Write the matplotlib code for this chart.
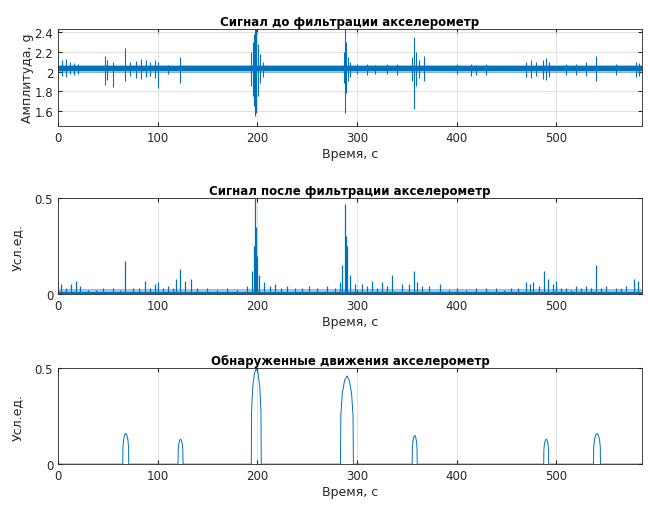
import matplotlib.pyplot as plt
import numpy as np

# time span of the record, s
t_end = 586

# raw accelerometer: noise band and bursts (time, upper, lower)
raw_band = [2.008, 2.052]
raw_band_wide = [1.99, 2.07]
raw_t = [4, 8, 12, 16, 20, 47, 49, 55, 67, 72, 78, 83, 88, 92, 97, 100, 110, 122,
         194, 196, 197, 198, 199, 201, 203, 206, 287, 288, 289, 291, 293, 300, 310,
         318, 330, 340, 355, 357, 359, 362, 367, 400, 415, 420, 430, 470, 475, 480,
         487, 490, 493, 510, 520, 530, 540, 560, 580, 583]
raw_hi = [2.12, 2.13, 2.10, 2.09, 2.08, 2.16, 2.12, 2.10, 2.24, 2.10, 2.11, 2.13, 2.12,
          2.10, 2.12, 2.10, 2.07, 2.15,
          2.20, 2.30, 2.38, 2.45, 2.45, 2.28, 2.18, 2.10, 2.20, 2.45, 2.30, 2.15, 2.10,
          2.08, 2.08, 2.07, 2.08, 2.08, 2.15, 2.35, 2.20, 2.12, 2.16, 2.08, 2.08, 2.07,
          2.08, 2.10, 2.12, 2.10, 2.12, 2.14, 2.10, 2.08, 2.08, 2.10, 2.16, 2.08, 2.10, 2.09]
raw_lo = [1.96, 1.95, 1.98, 1.97, 1.98, 1.86, 1.92, 1.84, 1.90, 1.96, 1.94, 1.93, 1.95,
          1.96, 1.94, 1.83, 1.98, 1.88,
          1.85, 1.75, 1.65, 1.55, 1.58, 1.75, 1.88, 1.95, 1.88, 1.58, 1.78, 1.90, 1.95,
          1.98, 1.97, 1.98, 1.98, 1.97, 1.90, 1.62, 1.85, 1.94, 1.90, 1.98, 1.96, 1.97,
          1.97, 1.95, 1.94, 1.96, 1.93, 1.92, 1.95, 1.97, 1.97, 1.96, 1.90, 1.97, 1.95, 1.96]

# filtered signal: base band and spikes (time, height)
filt_band = 0.012
filt_band_wide = 0.025
filt_t = [3, 8, 13, 18, 22, 30, 38, 45, 55, 62, 67, 75, 81, 87, 92, 97, 100, 105, 110,
          115, 118, 122, 127, 133, 140, 150, 160, 170, 180, 190, 195, 197, 198, 199,
          200, 202, 207, 213, 218, 224, 230, 238, 245, 252, 260, 270, 278, 283, 285,
          288, 289, 290, 293, 298, 305, 310, 315, 320, 325, 330, 335, 345, 352, 357,
          360, 365, 372, 383, 392, 400, 410, 420, 430, 440, 448, 455, 462, 470, 474,
          477, 483, 488, 492, 497, 500, 505, 510, 515, 520, 525, 530, 535, 540, 545,
          550, 560, 565, 570, 578, 582]
filt_h = [0.05, 0.03, 0.05, 0.07, 0.04, 0.02, 0.02, 0.03, 0.03, 0.02, 0.17, 0.03, 0.03,
          0.07, 0.03, 0.05, 0.06, 0.03, 0.04, 0.03, 0.08, 0.13, 0.07, 0.08, 0.03, 0.03,
          0.02, 0.03, 0.02, 0.04, 0.12, 0.25, 0.50, 0.35, 0.20, 0.10, 0.06, 0.04, 0.05,
          0.03, 0.04, 0.03, 0.03, 0.04, 0.03, 0.04, 0.03, 0.06, 0.15, 0.47, 0.30, 0.25,
          0.10, 0.05, 0.05, 0.04, 0.07, 0.03, 0.06, 0.04, 0.10, 0.05, 0.05, 0.12, 0.06,
          0.04, 0.04, 0.05, 0.02, 0.03, 0.02, 0.03, 0.03, 0.03, 0.02, 0.03, 0.03, 0.06,
          0.05, 0.06, 0.04, 0.12, 0.08, 0.05, 0.07, 0.03, 0.03, 0.02, 0.04, 0.03, 0.04,
          0.03, 0.15, 0.03, 0.04, 0.03, 0.03, 0.04, 0.08, 0.07]

# detected movements: arches (centre, height, width)
move_c = [68, 123, 199, 290, 358, 490, 541]
move_h = [0.16, 0.13, 0.50, 0.46, 0.15, 0.13, 0.16]
move_w = [6, 5, 10, 13, 5, 5, 7]
arch_x = [-0.5, -0.47, -0.36, -0.18, 0, 0.18, 0.36, 0.47, 0.5]
arch_y = [0, 0.55, 0.8, 0.95, 1, 0.95, 0.8, 0.55, 0]

blue = '#0072BD'
dark = '#262626'

plt.rcParams['font.family'] = 'DejaVu Sans'
plt.rcParams['font.size'] = 8

fig = plt.figure(figsize=(6.48, 5.1), dpi=100)
left, width = 0.0895, 0.901
ax1 = fig.add_axes([left, 0.751, width, 0.19])
ax2 = fig.add_axes([left, 0.4216, width, 0.188])
ax3 = fig.add_axes([left, 0.088, width, 0.188])

# raw
ax1.fill_between([0, t_end], raw_band_wide[0], raw_band_wide[1], color=blue, alpha=0.4, lw=0)
ax1.fill_between([0, t_end], raw_band[0], raw_band[1], color=blue, lw=0)
ax1.vlines(raw_t, raw_lo, raw_hi, color=blue, lw=0.8)
ax1.set_ylim(1.45, 2.43)
ax1.set_yticks([1.6, 1.8, 2.0, 2.2, 2.4])
ax1.set_yticklabels(['1.6', '1.8', '2', '2.2', '2.4'])
ax1.set_ylabel('Амплитуда, g', fontsize=9, color=dark, labelpad=0)
ax1.set_title('Сигнал до фильтрации акселерометр', fontsize=8.5, fontweight='bold', pad=3)

# filtered
ax2.fill_between([0, t_end], 0, filt_band_wide, color=blue, alpha=0.4, lw=0)
ax2.fill_between([0, t_end], 0, filt_band, color=blue, lw=0)
ax2.vlines(filt_t, 0, filt_h, color=blue, lw=0.9)
ax2.set_ylim(0, 0.5)
ax2.set_yticks([0, 0.5])
ax2.set_yticklabels(['0', '0.5'])
ax2.set_ylabel('Усл.ед.', fontsize=9, color=dark, labelpad=8)
ax2.set_title('Сигнал после фильтрации акселерометр', fontsize=8.5, fontweight='bold', pad=3)

# detected movements
xs = [0]
ys = [0]
for c, h, w in zip(move_c, move_h, move_w):
    xs += [c + w * a for a in arch_x]
    ys += [h * b for b in arch_y]
xs.append(t_end)
ys.append(0)
ax3.plot(xs, ys, color=blue, lw=0.7)
ax3.set_ylim(0, 0.5)
ax3.set_yticks([0, 0.5])
ax3.set_yticklabels(['0', '0.5'])
ax3.set_ylabel('Усл.ед.', fontsize=9, color=dark, labelpad=8)
ax3.set_title('Обнаруженные движения акселерометр', fontsize=8.5, fontweight='bold', pad=3)

for ax in (ax1, ax2, ax3):
    ax.set_xlim(0, t_end)
    ax.set_xticks([0, 100, 200, 300, 400, 500])
    ax.set_xlabel('Время, с', fontsize=9, color=dark, labelpad=2)
    ax.grid(True, color='#dcdcdc', lw=0.6)
    ax.set_axisbelow(True)
    ax.tick_params(direction='in', length=3, colors=dark, labelsize=8.5, top=True, right=True)
    for s in ax.spines.values():
        s.set_color(dark)
        s.set_linewidth(0.6)

fig.savefig('out.png', dpi=100)
